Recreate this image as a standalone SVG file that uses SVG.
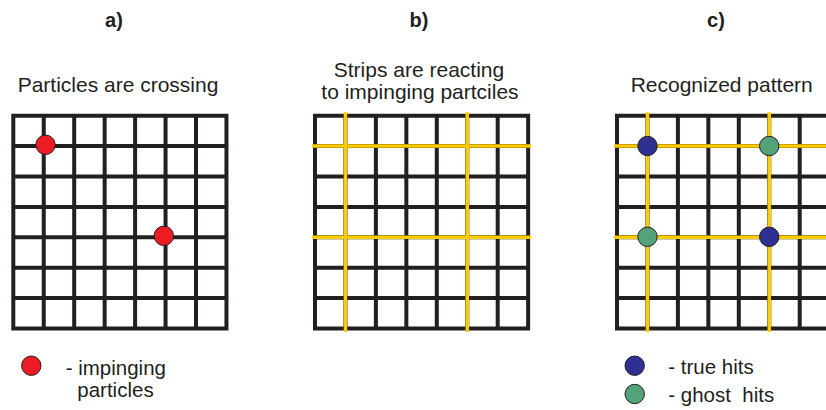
<svg xmlns="http://www.w3.org/2000/svg" xmlns:xlink="http://www.w3.org/1999/xlink" width="826" height="410" viewBox="0 0 826 410">
<style>
text{font-family:"Liberation Sans",Arial,sans-serif;fill:#231F20;white-space:pre}
.lbl{font-size:20px;font-weight:bold;text-anchor:middle}
.ttl{font-size:21px;text-anchor:middle}
.leg{font-size:20.5px}
.grid{fill:none;stroke:#231F20;stroke-width:4;stroke-linecap:square}
.strip{fill:none;stroke:#FFCC00;stroke-width:3.5}
.dot{stroke:#231F20;stroke-width:1}
.red{fill:#ED1C24}.blue{fill:#2E3192}.green{fill:#52A27A}
</style>
<defs>
<path id="grid" class="grid" d="M0 0h213.15M0 30.4h213.15M0 60.8h213.15M0 91.2h213.15M0 121.6h213.15M0 152h213.15M0 182.4h213.15M0 212.8h213.15M0 0v212.8M30.45 0v212.8M60.9 0v212.8M91.35 0v212.8M121.8 0v212.8M152.25 0v212.8M182.7 0v212.8M213.15 0v212.8"/>
<path id="strips" class="strip" d="M30.45 -3.5v219.8M152.25 -3.5v219.8M-3 30.4h219.15M-3 121.6h219.15"/>
</defs>
<g id="panel-a">
<text class="lbl" x="114" y="27">a)</text>
<text class="ttl" x="118" y="92">Particles are crossing</text>
<use xlink:href="#grid" x="13.3" y="115.7"/>
<circle class="dot red" cx="45.5" cy="144.8" r="9.7"/>
<circle class="dot red" cx="163.8" cy="235.8" r="9.7"/>
<circle class="dot red" cx="31.3" cy="365.7" r="9.7"/>
<text class="leg" x="65.7" y="374.5">- impinging</text>
<text class="leg" x="77.3" y="396.5">particles</text>
</g>
<g id="panel-b">
<text class="lbl" x="419" y="27">b)</text>
<text class="ttl" x="419" y="76.7">Strips are reacting</text>
<text class="ttl" x="420" y="98.5">to impinging partciles</text>
<use xlink:href="#grid" x="315" y="115.7"/>
<use xlink:href="#strips" x="315" y="115.7"/>
</g>
<g id="panel-c">
<text class="lbl" x="716" y="27">c)</text>
<text class="ttl" x="721.7" y="92">Recognized pattern</text>
<use xlink:href="#grid" x="617" y="115.7"/>
<use xlink:href="#strips" x="617" y="115.7"/>
<circle class="dot blue" cx="647.5" cy="146" r="9.7"/>
<circle class="dot green" cx="769.2" cy="146" r="9.7"/>
<circle class="dot green" cx="647.5" cy="236.8" r="9.7"/>
<circle class="dot blue" cx="769.2" cy="236.8" r="9.7"/>
<circle class="dot blue" cx="634.7" cy="365.7" r="9.7"/>
<circle class="dot green" cx="634.7" cy="394" r="9.7"/>
<text class="leg" x="668.3" y="373.5">- true hits</text>
<text class="leg" x="668.3" y="401.7" xml:space="preserve">- ghost  hits</text>
</g>
</svg>
